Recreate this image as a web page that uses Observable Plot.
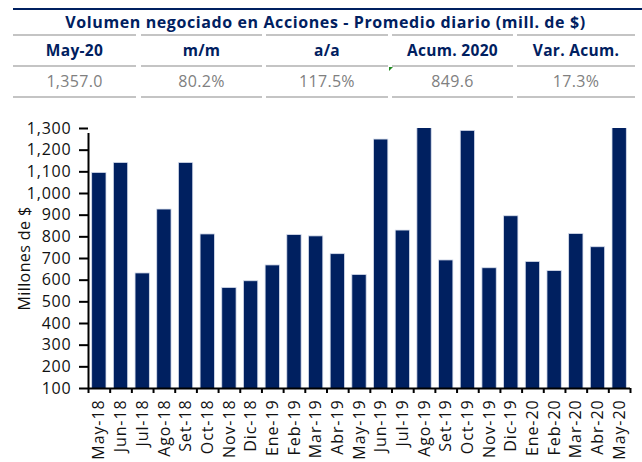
<!DOCTYPE html>
<html>
<head>
<meta charset="utf-8">
<script src="https://cdn.jsdelivr.net/npm/d3@7"></script>
<script src="https://cdn.jsdelivr.net/npm/@observablehq/plot@0.6"></script>
<style>
  html, body { margin: 0; padding: 0; background: #fff; }
  #wrap { position: relative; width: 642px; height: 462px; font-family: "Open Sans", sans-serif; overflow: hidden; }
  .hline { position: absolute; height: 2px; background: #c4c4c4; }
  .cell { position: absolute; text-align: center; white-space: nowrap; }
  #chart { position: absolute; left: 0; top: 100px; }
  #chart g[aria-label="x-axis tick label"] text { letter-spacing: 0.9px; }
  #chart g[aria-label="y-axis tick label"] text { letter-spacing: 0.8px; }
  #chart g[aria-label="y-axis label"] text { letter-spacing: 0.4px; }
</style>
</head>
<body>
<div id="wrap"><div id="chart"></div></div>
<script>
// ---- data ----
const title = "Volumen negociado en Acciones - Promedio diario (mill. de $)";
const headerLabels = ["May-20", "m/m", "a/a", "Acum. 2020", "Var. Acum."];
const headerValues = ["1,357.0", "80.2%", "117.5%", "849.6", "17.3%"];

const months = ["May-18","Jun-18","Jul-18","Ago-18","Set-18","Oct-18","Nov-18","Dic-18",
  "Ene-19","Feb-19","Mar-19","Abr-19","May-19","Jun-19","Jul-19","Ago-19","Set-19","Oct-19",
  "Nov-19","Dic-19","Ene-20","Feb-20","Mar-20","Abr-20","May-20"];
const volumes = [1095, 1141, 631, 926, 1141, 811, 564, 595,
  668, 808, 802, 720, 624, 1249, 829, 1310, 691, 1289,
  655, 895, 684, 642, 813, 752, 1357];
const yTicks = [100,200,300,400,500,600,700,800,900,1000,1100,1200,1300];

// ---- header table ----
const navy = "#002060";
const wrap = document.getElementById("wrap");
function add(cls, style, text) {
  const d = document.createElement("div");
  d.className = cls;
  Object.assign(d.style, style);
  if (text != null) d.textContent = text;
  wrap.appendChild(d);
  return d;
}
add("", {position: "absolute", left: "13px", top: "8px", width: "629px", height: "2px", background: navy});
add("cell", {left: "13px", width: "625px", top: "10px", height: "24px", lineHeight: "24px",
  fontWeight: "700", fontSize: "16px", letterSpacing: "0.6px", color: navy}, title);
const colLeft = [13, 141, 266, 392, 517];
const colWidth = [123, 121, 122, 121, 118];
for (const y of [34, 65, 96]) {
  colLeft.forEach((l, i) => add("hline", {left: l + "px", top: y + "px", width: colWidth[i] + "px"}));
}
headerLabels.forEach((t, i) => add("cell", {left: colLeft[i] + "px", width: colWidth[i] + "px",
  top: "37px", height: "26px", lineHeight: "26px", fontWeight: "700", fontSize: "15.5px",
  letterSpacing: "0.3px", color: navy}, t));
headerValues.forEach((t, i) => add("cell", {left: colLeft[i] + "px", width: colWidth[i] + "px",
  top: "68px", height: "26px", lineHeight: "26px", fontWeight: "400", fontSize: "16px",
  letterSpacing: "0.3px", color: "#808080"}, t));
add("", {position: "absolute", left: "389px", top: "67px", width: "0", height: "0",
  borderTop: "4px solid #1f8a1f", borderRight: "4px solid transparent"});

// ---- chart ----
const data = months.map((m, i) => ({month: m, value: volumes[i]}));
const W = 642, H = 362, ML = 88, MR = 12, MT = 28, MB = 74;
const step = (W - ML - MR) / months.length;
const first = months[0], last = months[months.length - 1];

const chart = Plot.plot({
  width: W, height: H,
  marginLeft: ML, marginRight: MR, marginTop: MT, marginBottom: MB,
  style: {fontFamily: "Open Sans, sans-serif", color: "#111", background: "#fff"},
  x: {domain: months, paddingInner: 0.34, paddingOuter: 0.17, round: false, label: null},
  y: {domain: [100, 1300], label: null},
  marks: [
    Plot.barY(data, {x: "month", y: "value", fill: navy, stroke: "#d6ddec", strokeWidth: 0.8, clip: true}),
    Plot.axisY({ticks: yTicks, tickFormat: d3.format(","), tickSize: 9, tickPadding: 8,
      strokeWidth: 2, stroke: "#000", fontSize: 16, fill: "#111",
      label: "Millones de $", labelAnchor: "center", labelArrow: "none", labelOffset: 70}),
    Plot.axisX({tickSize: 0, tickPadding: 11, tickRotate: -90, fontSize: 16, fill: "#111", label: null}),
    // y axis line
    Plot.ruleX([first], {x: d => d, dx: -step / 2, y1: 100, y2: 1300, stroke: "#000", strokeWidth: 2, insetBottom: -5}),
    // x axis line
    Plot.ruleY([100], {stroke: "#000", strokeWidth: 2}),
    // boundary ticks between categories
    Plot.ruleX(months, {x: d => d, dx: -step / 2, y1: 100, y2: 100, stroke: "#000", strokeWidth: 2, insetBottom: -5}),
    Plot.ruleX([last], {x: d => d, dx: step / 2, y1: 100, y2: 100, stroke: "#000", strokeWidth: 2, insetBottom: -5})
  ]
});
document.getElementById("chart").appendChild(chart);
</script>
</body>
</html>
